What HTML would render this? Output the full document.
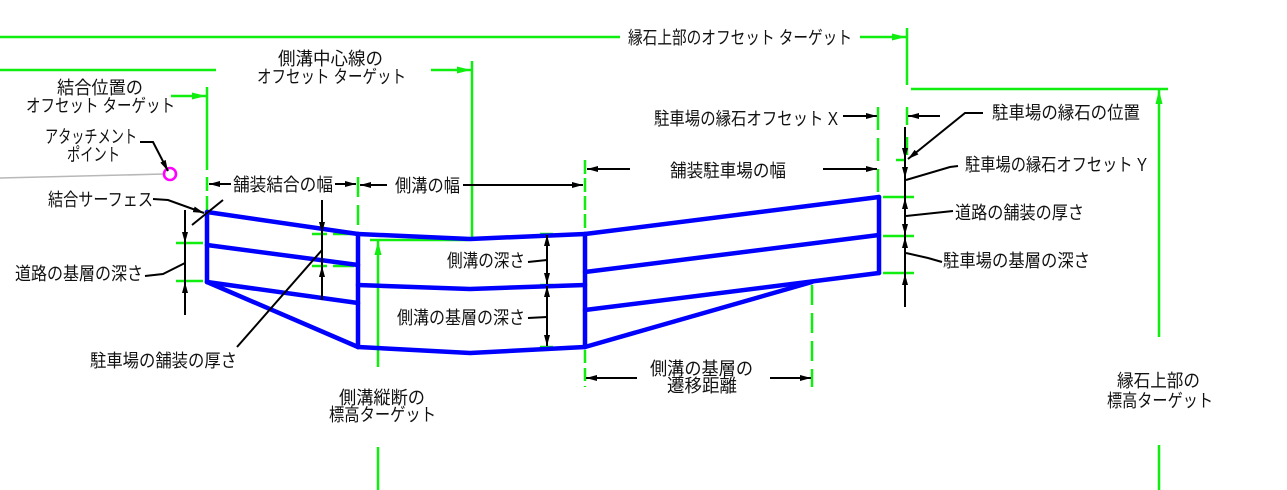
<!DOCTYPE html>
<html><head><meta charset="utf-8"><style>
html,body{margin:0;padding:0;background:#fff;}
svg{display:block;}
text{font-family:"Liberation Sans","Noto Sans CJK JP",sans-serif;font-size:18px;fill:#111;}
</style></head><body>
<svg width="1287" height="490" viewBox="0 0 1287 490" xmlns="http://www.w3.org/2000/svg">
<defs>
<marker id="ab" markerUnits="userSpaceOnUse" markerWidth="11" markerHeight="7" refX="11" refY="3.5" orient="auto"><path d="M0,0.5 L11,3.5 L0,6.5 z" fill="#000"/></marker>
<marker id="ag" markerUnits="userSpaceOnUse" markerWidth="14" markerHeight="8" refX="14" refY="4" orient="auto"><path d="M0,0.5 L14,4 L0,7.5 z" fill="#10ee10"/></marker>
</defs>

<!-- gray attachment line -->
<line x1="0" y1="178" x2="164" y2="174" stroke="#b8b8b8" stroke-width="1.6"/>

<!-- GREEN lines -->
<g stroke="#10ee10" stroke-width="2.5" fill="none">
<line x1="0" y1="37" x2="620" y2="37"/>
<line x1="860" y1="37" x2="906" y2="37" marker-end="url(#ag)"/>
<line x1="907" y1="28" x2="907" y2="85"/>
<line x1="911" y1="89" x2="1168" y2="89"/>
<line x1="1159" y1="337" x2="1159" y2="90" marker-end="url(#ag)"/>
<line x1="1159" y1="445" x2="1159" y2="490"/>
<line x1="0" y1="70" x2="216" y2="70"/>
<line x1="431" y1="70" x2="471" y2="70" marker-end="url(#ag)"/>
<line x1="472" y1="61" x2="472" y2="237"/>
<line x1="171" y1="96" x2="206" y2="96" marker-end="url(#ag)"/>
<line x1="207" y1="87" x2="207" y2="170"/>
<line x1="207" y1="177" x2="207" y2="212" stroke-dasharray="14 5"/>
<line x1="358" y1="177" x2="358" y2="234" stroke-dasharray="20 8"/>
<line x1="585" y1="160" x2="585" y2="234" stroke-dasharray="14 4"/>
<line x1="585" y1="350" x2="585" y2="387" stroke-dasharray="13 5"/>
<line x1="878" y1="107" x2="878" y2="197" stroke-dasharray="23 8"/>
<line x1="907" y1="107" x2="907" y2="125"/>
<line x1="907" y1="137" x2="907" y2="155"/>
<line x1="812" y1="285" x2="812" y2="387" stroke-dasharray="20 8"/>
<line x1="378" y1="367" x2="378" y2="241" marker-end="url(#ag)"/>
<line x1="378" y1="447" x2="378" y2="490"/>
<line x1="370" y1="240" x2="468" y2="240"/>
<!-- dashes -->
<line x1="176" y1="243" x2="203" y2="243"/>
<line x1="176" y1="281" x2="203" y2="281"/>
<line x1="312" y1="234" x2="327" y2="234"/><line x1="333" y1="234" x2="354" y2="234"/>
<line x1="312" y1="266" x2="327" y2="266"/><line x1="333" y1="266" x2="354" y2="266"/>
<line x1="540" y1="234" x2="553" y2="234"/><line x1="567" y1="234" x2="581" y2="234"/>
<line x1="540" y1="285" x2="553" y2="285"/><line x1="567" y1="285" x2="581" y2="285"/>
<line x1="540" y1="347" x2="553" y2="347"/><line x1="567" y1="347" x2="581" y2="347"/>
<line x1="883" y1="197" x2="914" y2="197"/>
<line x1="883" y1="236" x2="914" y2="236"/>
<line x1="883" y1="273" x2="914" y2="273"/>
<line x1="896" y1="160" x2="905" y2="160"/>
</g>

<!-- BLUE geometry -->
<g stroke="#0000ff" stroke-width="4.5" fill="none" stroke-linejoin="round" stroke-linecap="round">
<polyline points="207,212 207,282"/>
<polyline points="207,212 358,234"/>
<polyline points="207,245 358,265"/>
<polyline points="207,282 358,303"/>
<polyline points="207,282 358,347"/>
<polyline points="358,234 358,347"/>
<polyline points="358,234 470,239 585,234"/>
<polyline points="358,285 470,289 585,285"/>
<polyline points="358,347 470,353 585,347"/>
<polyline points="585,234 585,347"/>
<polyline points="585,234 879,197"/>
<polyline points="585,272 879,235"/>
<polyline points="585,310 879,273"/>
<polyline points="585,347 812,282"/>
<polyline points="879,197 879,273"/>
</g>

<!-- attachment point -->
<circle cx="170" cy="174" r="6" fill="none" stroke="#ff00ff" stroke-width="2.6"/>

<!-- BLACK dimension lines / leaders -->
<g stroke="#000" stroke-width="2" fill="none">
<line x1="231" y1="184" x2="209" y2="184" marker-end="url(#ab)"/>
<line x1="335" y1="184" x2="356" y2="184" marker-end="url(#ab)"/>
<line x1="387" y1="185" x2="360" y2="185" marker-end="url(#ab)"/>
<line x1="463" y1="185" x2="583" y2="185" marker-end="url(#ab)"/>
<line x1="630" y1="169" x2="587" y2="169" marker-end="url(#ab)"/>
<line x1="823" y1="169" x2="877" y2="169" marker-end="url(#ab)"/>
<line x1="843" y1="116" x2="877" y2="116" marker-end="url(#ab)"/>
<line x1="940" y1="116" x2="908" y2="116" marker-end="url(#ab)"/>
<line x1="637" y1="378" x2="586" y2="378" marker-end="url(#ab)"/>
<line x1="770" y1="378" x2="811" y2="378" marker-end="url(#ab)"/>

<line x1="185" y1="210" x2="185" y2="315"/>
<line x1="185" y1="215" x2="185" y2="243" marker-end="url(#ab)"/>
<line x1="185" y1="315" x2="185" y2="282" marker-end="url(#ab)"/>
<line x1="322" y1="200" x2="322" y2="233" marker-end="url(#ab)"/>
<line x1="322" y1="233" x2="322" y2="300"/>
<line x1="322" y1="300" x2="322" y2="266" marker-end="url(#ab)"/>
<line x1="547" y1="260" x2="547" y2="235" marker-end="url(#ab)"/>
<line x1="547" y1="260" x2="547" y2="284" marker-end="url(#ab)"/>
<line x1="547" y1="317" x2="547" y2="286" marker-end="url(#ab)"/>
<line x1="547" y1="317" x2="547" y2="346" marker-end="url(#ab)"/>
<line x1="905" y1="127" x2="905" y2="307"/>
<line x1="905" y1="130" x2="905" y2="159" marker-end="url(#ab)"/>
<line x1="905" y1="165" x2="905" y2="178" marker-end="url(#ab)"/>
<line x1="905" y1="218" x2="905" y2="198" marker-end="url(#ab)"/>
<line x1="905" y1="218" x2="905" y2="235" marker-end="url(#ab)"/>
<line x1="905" y1="255" x2="905" y2="237" marker-end="url(#ab)"/>
<line x1="905" y1="307" x2="905" y2="274" marker-end="url(#ab)"/>

<polyline points="140,142 153,142 168,171" marker-end="url(#ab)"/>
<polyline points="153,199 168,200 204,213" marker-end="url(#ab)"/>
<line x1="192" y1="225" x2="223" y2="200"/>
<polyline points="145,276 163,274 185,263"/>
<line x1="237" y1="347" x2="322" y2="250"/>
<line x1="528" y1="262" x2="547" y2="260"/>
<line x1="528" y1="318" x2="547" y2="317"/>
<polyline points="983,113 965,113 908,159" marker-end="url(#ab)"/>
<polyline points="958,166 950,167 906,180"/>
<line x1="953" y1="211" x2="906" y2="216"/>
<polyline points="942,262 928,258 906,253"/>
</g>

<!-- TEXT -->
<g transform="translate(0,1)">
<text x="628" y="43" textLength="224" lengthAdjust="spacingAndGlyphs">縁石上部のオフセット ターゲット</text>
<text x="278" y="64" textLength="105" lengthAdjust="spacingAndGlyphs">側溝中心線の</text>
<text x="257" y="82" textLength="149" lengthAdjust="spacingAndGlyphs">オフセット ターゲット</text>
<text x="57" y="93" textLength="86" lengthAdjust="spacingAndGlyphs">結合位置の</text>
<text x="26" y="111" textLength="149" lengthAdjust="spacingAndGlyphs">オフセット ターゲット</text>
<text x="45" y="142" textLength="92" lengthAdjust="spacingAndGlyphs">アタッチメント</text>
<text x="67" y="160" textLength="53" lengthAdjust="spacingAndGlyphs">ポイント</text>
<text x="233" y="190" textLength="100" lengthAdjust="spacingAndGlyphs">舗装結合の幅</text>
<text x="395" y="191" textLength="65" lengthAdjust="spacingAndGlyphs">側溝の幅</text>
<text x="654" y="124" textLength="184" lengthAdjust="spacingAndGlyphs">駐車場の縁石オフセット X</text>
<text x="670" y="176" textLength="116" lengthAdjust="spacingAndGlyphs">舗装駐車場の幅</text>
<text x="992" y="118" textLength="148" lengthAdjust="spacingAndGlyphs">駐車場の縁石の位置</text>
<text x="965" y="170" textLength="182" lengthAdjust="spacingAndGlyphs">駐車場の縁石オフセット Y</text>
<text x="955" y="218" textLength="129" lengthAdjust="spacingAndGlyphs">道路の舗装の厚さ</text>
<text x="943" y="266" textLength="147" lengthAdjust="spacingAndGlyphs">駐車場の基層の深さ</text>
<text x="48" y="205" textLength="105" lengthAdjust="spacingAndGlyphs">結合サーフェス</text>
<text x="15" y="279" textLength="128" lengthAdjust="spacingAndGlyphs">道路の基層の深さ</text>
<text x="90" y="366" textLength="147" lengthAdjust="spacingAndGlyphs">駐車場の舗装の厚さ</text>
<text x="447" y="266" textLength="78" lengthAdjust="spacingAndGlyphs">側溝の深さ</text>
<text x="397" y="323" textLength="128" lengthAdjust="spacingAndGlyphs">側溝の基層の深さ</text>
<text x="650" y="374" textLength="103" lengthAdjust="spacingAndGlyphs">側溝の基層の</text>
<text x="667" y="391" textLength="70" lengthAdjust="spacingAndGlyphs">遷移距離</text>
<text x="339" y="403" textLength="86" lengthAdjust="spacingAndGlyphs">側溝縦断の</text>
<text x="329" y="420" textLength="107" lengthAdjust="spacingAndGlyphs">標高ターゲット</text>
<text x="1117" y="386" textLength="83" lengthAdjust="spacingAndGlyphs">縁石上部の</text>
<text x="1107" y="406" textLength="106" lengthAdjust="spacingAndGlyphs">標高ターゲット</text>
</g>
</svg>
</body></html>
